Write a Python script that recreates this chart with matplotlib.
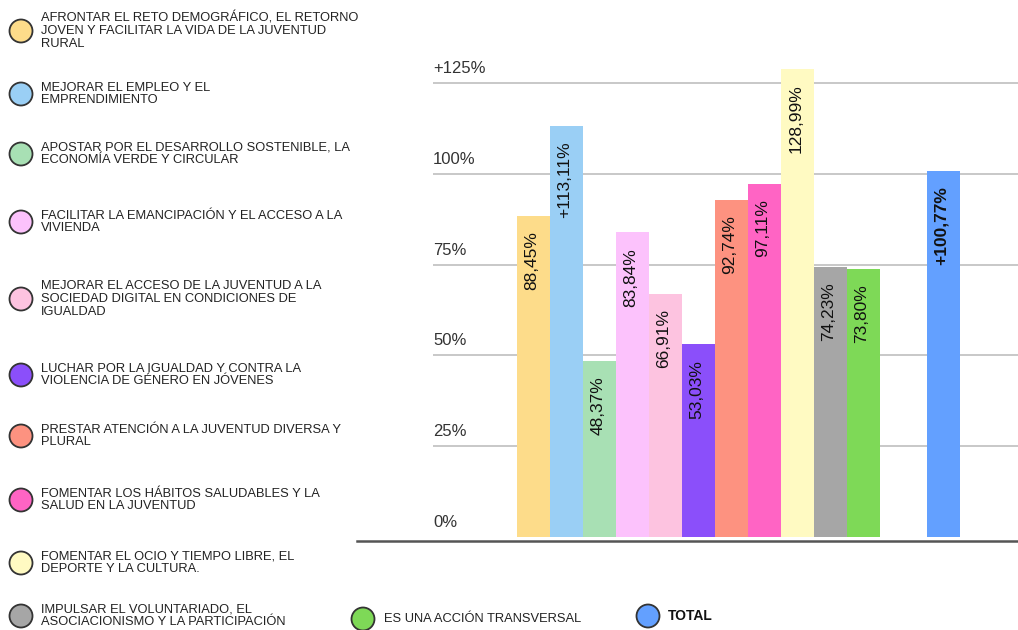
import matplotlib.pyplot as plt
import matplotlib.patches as mpatches
from matplotlib.lines import Line2D
import numpy as np

plt.rcParams['font.family'] = ['Liberation Sans', 'DejaVu Sans']

# Datos
categorias = [
    'AFRONTAR EL RETO DEMOGRÁFICO, EL RETORNO\nJOVEN Y FACILITAR LA VIDA DE LA JUVENTUD\nRURAL',
    'MEJORAR EL EMPLEO Y EL\nEMPRENDIMIENTO',
    'APOSTAR POR EL DESARROLLO SOSTENIBLE, LA\nECONOMÍA VERDE Y CIRCULAR',
    'FACILITAR LA EMANCIPACIÓN Y EL ACCESO A LA\nVIVIENDA',
    'MEJORAR EL ACCESO DE LA JUVENTUD A LA\nSOCIEDAD DIGITAL EN CONDICIONES DE\nIGUALDAD',
    'LUCHAR POR LA IGUALDAD Y CONTRA LA\nVIOLENCIA DE GÉNERO EN JÓVENES',
    'PRESTAR ATENCIÓN A LA JUVENTUD DIVERSA Y\nPLURAL',
    'FOMENTAR LOS HÁBITOS SALUDABLES Y LA\nSALUD EN LA JUVENTUD',
    'FOMENTAR EL OCIO Y TIEMPO LIBRE, EL\nDEPORTE Y LA CULTURA.',
    'IMPULSAR EL VOLUNTARIADO, EL\nASOCIACIONISMO Y LA PARTICIPACIÓN',
    'ES UNA ACCIÓN TRANSVERSAL',
]
valores = [88.45, 113.11, 48.37, 83.84, 66.91, 53.03, 92.74, 97.11, 128.99, 74.23, 73.80]
etiquetas = ['88,45%', '+113,11%', '48,37%', '83,84%', '66,91%', '53,03%',
             '92,74%', '97,11%', '128,99%', '74,23%', '73,80%']
colores = ['#FDDC8A', '#9ACFF5', '#A8E0B4', '#FCC2FC', '#FDC3E0', '#8B4FFA',
           '#FD9280', '#FF64C4', '#FFFAC2', '#A6A6A6', '#7ED957']

total_nombre = 'TOTAL'
total_valor = 100.77
total_etiqueta = '+100,77%'
total_color = '#63A0FF'

ticks = [0, 25, 50, 75, 100, 125]
tick_labels = ['0%', '25%', '50%', '75%', '100%', '+125%']

W, H = 1018, 630
fig = plt.figure(figsize=(W / 100, H / 100), dpi=100)

# grafico de barras
ax = fig.add_axes([433 / W, 93 / H, 585 / W, 497 / H])
x = np.arange(len(valores))
x_total = len(valores) + 1.42
ax.bar(x, valores, width=1.0, align='edge', color=colores, zorder=2)
ax.bar([x_total], [total_valor], width=1.0, align='edge', color=total_color, zorder=2)

for xi, v, t in zip(x, valores, etiquetas):
    ax.annotate(t, (xi + 0.45, v), xytext=(0, -11), textcoords='offset points',
                rotation=90, ha='center', va='top', fontsize=12.5, color='#111')
ax.annotate(total_etiqueta, (x_total + 0.45, total_valor), xytext=(0, -11),
            textcoords='offset points', rotation=90, ha='center', va='top',
            fontsize=12.5, color='#111', fontweight='bold')

ax.set_xlim(-84 / 33, 585 / 33 - 84 / 33)
ax.set_ylim(0, 497 / 3.632)
for t, lab in zip(ticks, tick_labels):
    if t > 0:
        ax.axhline(t, color='#C8C8C8', lw=1.4, zorder=1)
    ax.annotate(lab, (0, t), xycoords=('axes fraction', 'data'), xytext=(0, 5),
                textcoords='offset points', ha='left', va='bottom',
                fontsize=12, color='#333')
ax.axis('off')

# linea base
fig.add_artist(Line2D([357 / W, 1.0], [1 - 541 / H, 1 - 541 / H], color='#555555', lw=1.8))

# leyenda en pixeles
lg = fig.add_axes([0, 0, 1, 1])
lg.set_xlim(0, W)
lg.set_ylim(H, 0)
lg.axis('off')
lg.patch.set_alpha(0)

ys = [31, 94, 154, 222, 299, 375, 436, 500, 563, 616]
for nombre, col, y in zip(categorias[:10], colores[:10], ys):
    lg.add_patch(mpatches.Circle((21, y), 11.5, facecolor=col, edgecolor='#333', lw=1.3))
    lg.text(41, y, nombre, ha='left', va='center', fontsize=9.3, color='#222',
            linespacing=1.1)

lg.add_patch(mpatches.Circle((363, 619), 11.5, facecolor=colores[10], edgecolor='#333', lw=1.3))
lg.text(384, 619, categorias[10], ha='left', va='center', fontsize=9.3, color='#222')
lg.add_patch(mpatches.Circle((648, 616), 11.5, facecolor=total_color, edgecolor='#333', lw=1.3))
lg.text(668, 616, total_nombre, ha='left', va='center', fontsize=10, color='#111',
        fontweight='bold')

fig.savefig('out.png', dpi=100)
